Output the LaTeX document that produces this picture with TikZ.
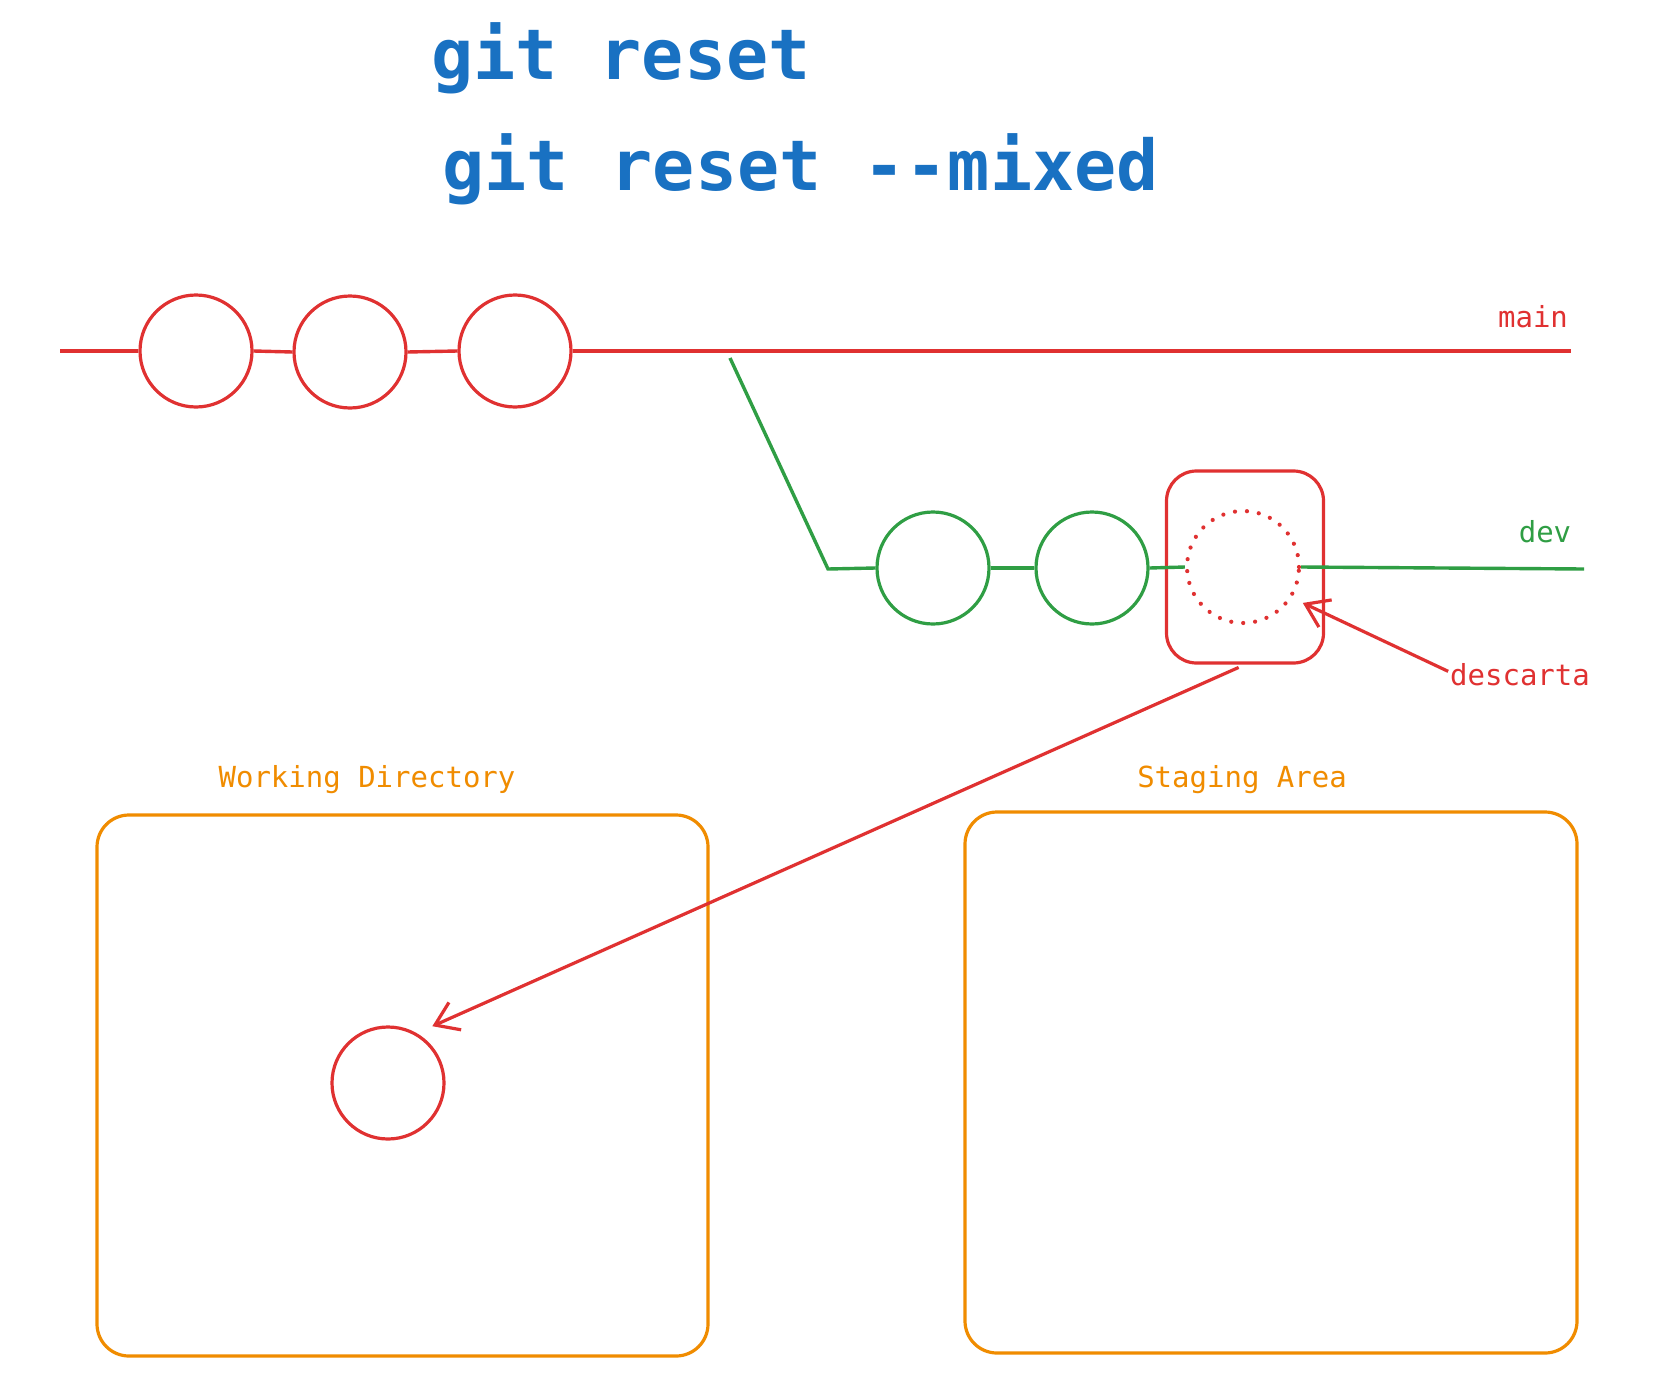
\documentclass[tikz,border=0pt]{standalone}
\usepackage{fontspec}
\setmainfont[Ligatures=TeXOff]{DejaVu Sans Mono}
\usetikzlibrary{arrows.meta,calc}
\definecolor{xblue}{HTML}{1971C2}
\definecolor{xred}{HTML}{E03131}
\definecolor{xgreen}{HTML}{2F9E44}
\definecolor{xorange}{HTML}{F08C00}
\tikzset{
  commit/.style={circle, draw=#1, line width=3.2pt, minimum size=112pt, inner sep=0pt},
  gone/.style={circle, draw=xred, line width=4.2pt, dash pattern=on 0pt off 12pt, line cap=round, minimum size=112pt, inner sep=0pt},
  area/.style={draw=xorange, line width=3.2pt, rounded corners=32pt},
  lbl/.style={font=\fontsize{29}{32}\selectfont, anchor=base, inner sep=0pt},
  ttl/.style={font=\bfseries\fontsize{70}{80}\selectfont, text=xblue, anchor=base west, inner sep=0pt},
  redline/.style={draw=xred, line width=3.4pt},
  greenline/.style={draw=xgreen, line width=3.4pt},
  arr/.style={draw=xred, line width=3.2pt, -{Straight Barb[length=22pt,width=30pt,line width=3.2pt]}}
}
\begin{document}
\begin{tikzpicture}[x=1pt,y=-1pt]
\useasboundingbox[fill=white] (0,0) rectangle (1664,1383);
% title
\node[ttl] (t1) at (431,80) {git reset};
\node[ttl] (t2) at (442,191) {git reset --mixed};
% main branch
\coordinate (mL) at (60,351);
\coordinate (mR) at (1571,351);
\node[commit=xred] (m1) at (196,351) {};
\node[commit=xred] (m2) at (350,352) {};
\node[commit=xred] (m3) at (515,351) {};
\draw[redline] (mL) -- (m1.west);
\draw[redline] (m1.east) -- (m2.west);
\draw[redline] (m2.east) -- (m3.west);
\draw[redline] (m3.east) -- (mR);
\node[lbl, text=xred] (lmain) at (1533,327) {main};
% dev branch
\coordinate (bS) at (730,358);
\coordinate (bK) at (828,569);
\coordinate (dR) at (1584,569);
\node[commit=xgreen] (d1) at (933,568) {};
\node[commit=xgreen] (d2) at (1092,568) {};
\node[gone] (dc) at (1243,567) {};
\node[draw=xred, line width=3.2pt, rounded corners=30pt, minimum width=157pt, minimum height=192pt, inner sep=0pt] (box) at (1245,567) {};
\draw[greenline] (bS) -- (bK) -- (d1.west);
\draw[greenline] (d1.east) -- (d2.west);
\draw[greenline] (d2.east) -- (dc.west);
\draw[greenline] (dc.east) -- (dR);
\node[lbl, text=xgreen] (ldev) at (1545,542) {dev};
% descarta
\node[lbl, text=xred] (desc) at (1520,685) {descarta};
\draw[arr, shorten <=2pt] ($(desc.west)+(0,-2)$) -- ($(dc.-31)+(10,6)$);
% areas
\node[area, minimum width=611pt, minimum height=541pt, inner sep=0pt] (wd) at (402.5,1085.5) {};
\node[area, minimum width=612pt, minimum height=541pt, inner sep=0pt] (sa) at (1271,1082.5) {};
\node[lbl, text=xorange] (lwd) at (367,787) {Working Directory};
\node[lbl, text=xorange] (lsa) at (1242,787) {Staging Area};
\node[commit=xred] (wc) at (388,1083) {};
\draw[arr, shorten <=7pt, shorten >=17pt] (box.south) -- (wc.60);
\end{tikzpicture}
\end{document}
